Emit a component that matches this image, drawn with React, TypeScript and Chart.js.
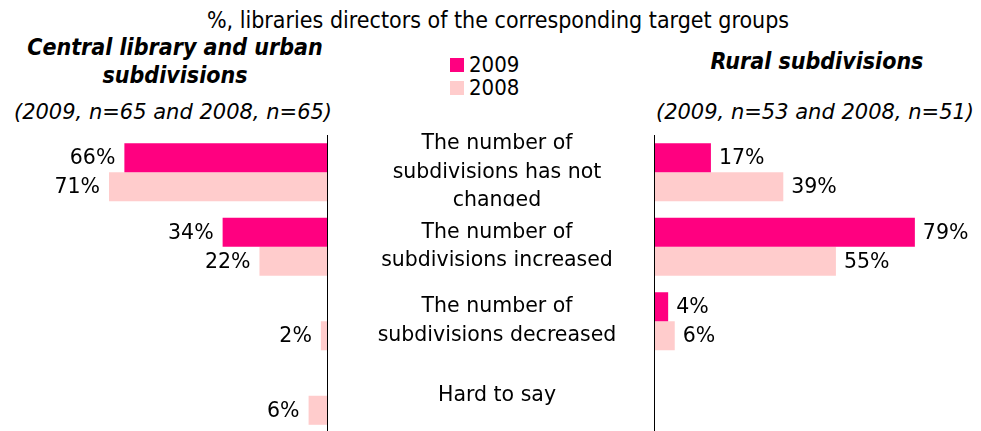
import React, { useEffect, useRef } from "react";
import { Chart, registerables } from "chart.js";

Chart.register(...registerables);

const categories: string[][] = [
  ["The number of", "subdivisions has not", "changed"],
  ["The number of", "subdivisions increased"],
  ["The number of", "subdivisions decreased"],
  ["Hard to say"],
];
const seriesNames = ["2009", "2008"];
const urban2009 = [66, 34, null, null];
const urban2008 = [71, 22, 2, 6];
const rural2009 = [17, 79, 4, null];
const rural2008 = [39, 55, 6, null];

const C2009 = "#FF0080";
const C2008 = "#FFCCCC";
const VALUE_FONT = "20.5px 'DejaVu Sans', Verdana, sans-serif";
const COND = "'DejaVu Sans Condensed', 'DejaVu Sans', Tahoma, sans-serif";
const WIDE = "'DejaVu Sans', Verdana, sans-serif";

const valueLabels = (side: "left" | "right") => ({
  id: "valueLabels-" + side,
  afterDatasetsDraw(chart: any) {
    const ctx = chart.ctx;
    ctx.save();
    ctx.font = VALUE_FONT;
    ctx.fillStyle = "#000";
    ctx.textBaseline = "middle";
    chart.data.datasets.forEach((ds: any, di: number) => {
      const meta = chart.getDatasetMeta(di);
      meta.data.forEach((bar: any, i: number) => {
        const v = ds.data[i];
        if (v === null || v === undefined) return;
        if (side === "left") {
          ctx.textAlign = "right";
          ctx.fillText(v + "%", bar.x - 9, bar.y + 1);
        } else {
          ctx.textAlign = "left";
          ctx.fillText(v + "%", bar.x + 8, bar.y + 1);
        }
      });
    });
    ctx.restore();
  },
});

const axisLine = {
  id: "axisLine",
  afterDatasetsDraw(chart: any) {
    const ctx = chart.ctx;
    const x = Math.round(chart.scales.x.getPixelForValue(0));
    const { top, bottom } = chart.chartArea;
    ctx.save();
    ctx.strokeStyle = "#000";
    ctx.lineWidth = 1;
    ctx.beginPath();
    ctx.moveTo(x + 0.5, top);
    ctx.lineTo(x + 0.5, bottom);
    ctx.stroke();
    ctx.restore();
  },
};

const axisLineRight = {
  id: "axisLineRight",
  afterDatasetsDraw(chart: any) {
    const ctx = chart.ctx;
    const x = Math.round(chart.scales.x.getPixelForValue(0));
    const { top, bottom } = chart.chartArea;
    ctx.save();
    ctx.strokeStyle = "#000";
    ctx.lineWidth = 1;
    ctx.beginPath();
    ctx.moveTo(x - 0.5, top);
    ctx.lineTo(x - 0.5, bottom);
    ctx.stroke();
    ctx.restore();
  },
};

const categoryLabels = {
  id: "categoryLabels",
  afterDatasetsDraw(chart: any) {
    const ctx = chart.ctx;
    const y = chart.scales.y;
    const cx = chart.chartArea.left - 158;
    const lh = 28.5;
    ctx.save();
    ctx.font = VALUE_FONT;
    ctx.fillStyle = "#000";
    ctx.textAlign = "center";
    ctx.textBaseline = "middle";
    categories.forEach((lines, i) => {
      const c = y.getPixelForValue(i);
      const half = (y.getPixelForValue(1) - y.getPixelForValue(0)) / 2;
      ctx.save();
      ctx.beginPath();
      ctx.rect(0, c - half - 10, chart.width, half + 44);
      ctx.clip();
      const start = c - ((lines.length - 1) * lh) / 2;
      lines.forEach((t, j) => ctx.fillText(t, cx, start + j * lh));
      ctx.restore();
    });
    ctx.restore();
  },
};

function makeConfig(d2009: any[], d2008: any[], reverse: boolean, max: number, padding: any, plugins: any[]) {
  return {
    type: "bar" as const,
    data: {
      labels: categories.map((c) => c.join(" ")),
      datasets: [
        { label: seriesNames[0], data: d2009, backgroundColor: C2009, borderWidth: 0, categoryPercentage: 0.78, barPercentage: 1 },
        { label: seriesNames[1], data: d2008, backgroundColor: C2008, borderWidth: 0, categoryPercentage: 0.78, barPercentage: 1 },
      ],
    },
    options: {
      indexAxis: "y" as const,
      animation: false as const,
      responsive: false,
      maintainAspectRatio: false,
      layout: { padding },
      plugins: { legend: { display: false }, tooltip: { enabled: false }, title: { display: false } },
      scales: {
        x: { display: false, min: 0, max, reverse },
        y: { display: false },
      },
    },
    plugins,
  };
}

export default function App() {
  const leftRef = useRef<HTMLCanvasElement>(null);
  const rightRef = useRef<HTMLCanvasElement>(null);

  useEffect(() => {
    const left = new Chart(
      leftRef.current!,
      makeConfig(urban2009, urban2008, true, 100, { left: 20, right: 3, top: 0, bottom: 0 }, [axisLine, valueLabels("left")]) as any
    );
    const right = new Chart(
      rightRef.current!,
      makeConfig(rural2009, rural2008, false, 95, { left: 315, right: 13.5, top: 10, bottom: 0 }, [axisLineRight, valueLabels("right"), categoryLabels]) as any
    );
    return () => {
      left.destroy();
      right.destroy();
    };
  }, []);

  const abs = (s: React.CSSProperties): React.CSSProperties => ({ position: "absolute", whiteSpace: "nowrap", ...s });
  const headerFont: React.CSSProperties = { fontFamily: COND, fontWeight: "bold", fontStyle: "italic", fontSize: 23, color: "#000" };
  const subFont: React.CSSProperties = { fontFamily: WIDE, fontStyle: "italic", fontSize: 21, color: "#000" };

  return (
    <div style={{ position: "fixed", left: 0, top: 0, width: 981, height: 431, overflow: "hidden", background: "#fff" }}>
      <div style={abs({ left: 0, width: 996, top: 7, textAlign: "center", fontFamily: COND, fontSize: 23, lineHeight: "26px" })}>
        %, libraries directors of the corresponding target groups
      </div>
      <div style={abs({ left: 0, width: 350, top: 33, textAlign: "center", lineHeight: "28px", ...headerFont })}>
        Central library and urban
        <br />
        subdivisions
      </div>
      <div style={abs({ left: 0, width: 346, top: 99, textAlign: "center", lineHeight: "26px", ...subFont })}>
        (2009, n=65 and 2008, n=65)
      </div>
      <div style={abs({ left: 640, width: 354, top: 47, textAlign: "center", lineHeight: "28px", ...headerFont })}>
        Rural subdivisions
      </div>
      <div style={abs({ left: 640, width: 350, top: 99, textAlign: "center", lineHeight: "26px", ...subFont })}>
        (2009, n=53 and 2008, n=51)
      </div>
      {seriesNames.map((n, i) => (
        <div key={n} style={abs({ left: 450, top: 54 + i * 23, height: 22, display: "flex", alignItems: "center" })}>
          <span style={{ display: "inline-block", width: 14, height: 14, background: i === 0 ? C2009 : C2008 }} />
          <span style={{ marginLeft: 5, fontFamily: COND, fontSize: 22, lineHeight: "22px", color: "#000" }}>{n}</span>
        </div>
      ))}
      <canvas ref={leftRef} width={330} height={298} style={{ position: "absolute", left: 0, top: 135, width: 330, height: 298 }} />
      <canvas ref={rightRef} width={641} height={308} style={{ position: "absolute", left: 340, top: 125, width: 641, height: 308 }} />
    </div>
  );
}
